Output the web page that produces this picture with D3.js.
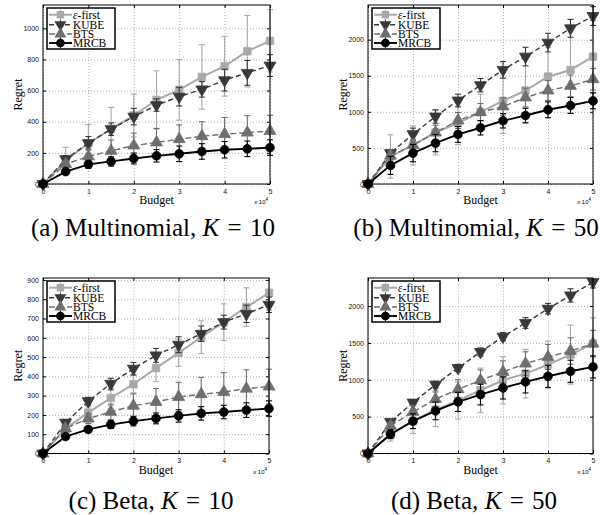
<!DOCTYPE html>
<html>
<head>
<meta charset="utf-8">
<script src="https://cdn.jsdelivr.net/npm/d3@7"></script>
<style>
body { margin: 0; background: #fff; }
svg { display: block; }
</style>
</head>
<body>
<div id="chart"></div>
<script>
// Regret vs budget, four settings (budget in units of 10^4)

var budget = [0, 0.5, 1, 1.5, 2, 2.5, 3, 3.5, 4, 4.5, 5];
var methods = ["ε-first", "KUBE", "BTS", "MRCB"];
var xTicks = [0, 1, 2, 3, 4, 5];

// (a) Multinomial, K = 10
var aEps     = [0, 150, 262, 355, 440, 540, 605, 688, 757, 853, 920];
var aEpsErr  = [0, 85, 120, 137, 138, 187, 195, 207, 192, 230, 200];
var aKube    = [0, 160, 262, 352, 433, 507, 561, 608, 667, 714, 761];
var aKubeErr = [0, 23, 43, 40, 53, 40, 60, 50, 70, 80, 70];
var aBts     = [0, 128, 177, 213, 247, 267, 288, 307, 320, 330, 341];
var aBtsErr  = [0, 20, 50, 70, 80, 90, 92, 93, 108, 109, 100];
var aMrcb    = [0, 80, 126, 145, 164, 181, 194, 209, 220, 226, 234];
var aMrcbErr = [0, 15, 25, 30, 35, 40, 50, 50, 53, 50, 50];

// (b) Multinomial, K = 50
var bEps     = [0, 382, 535, 714, 843, 995, 1152, 1295, 1488, 1580, 1765];
var bEpsErr  = [0, 300, 270, 310, 300, 250, 450, 450, 400, 600, 500];
var bKube    = [0, 428, 691, 935, 1157, 1369, 1581, 1765, 1959, 2157, 2327];
var bKubeErr = [0, 40, 83, 93, 87, 92, 115, 129, 129, 124, 130];
var bBts     = [0, 392, 539, 714, 880, 995, 1074, 1198, 1295, 1359, 1452];
var bBtsErr  = [0, 60, 80, 100, 110, 120, 120, 130, 138, 150, 150];
var bMrcb    = [0, 258, 428, 567, 687, 779, 876, 949, 1028, 1088, 1152];
var bMrcbErr = [0, 125, 120, 120, 110, 100, 100, 100, 110, 110, 110];

// (c) Beta, K = 10
var cEps     = [0, 129, 212, 288, 359, 443, 522, 603, 681, 759, 833];
var cEpsErr  = [0, 20, 30, 40, 45, 70, 70, 85, 95, 100, 90];
var cKube    = [0, 160, 271, 362, 440, 509, 564, 621, 681, 724, 771];
var cKubeErr = [0, 15, 20, 28, 32, 36, 41, 40, 36, 45, 40];
var cBts     = [0, 130, 181, 216, 247, 267, 293, 307, 319, 336, 347];
var cBtsErr  = [0, 15, 25, 40, 62, 70, 76, 88, 100, 98, 90];
var cMrcb    = [0, 88, 125, 150, 168, 182, 195, 208, 215, 225, 233];
var cMrcbErr = [0, 10, 15, 20, 25, 28, 32, 35, 35, 38, 40];

// (d) Beta, K = 50
var dEps     = [0, 257, 442, 596, 718, 858, 993, 1083, 1205, 1341, 1490];
var dEpsErr  = [0, 90, 170, 230, 250, 300, 320, 330, 320, 400, 350];
var dKube    = [0, 429, 691, 934, 1160, 1377, 1585, 1770, 1964, 2144, 2325];
var dKubeErr = [0, 30, 40, 45, 50, 55, 55, 72, 72, 90, 80];
var dBts     = [0, 375, 564, 736, 871, 993, 1106, 1219, 1309, 1390, 1490];
var dBtsErr  = [0, 50, 90, 110, 130, 140, 150, 160, 170, 180, 180];
var dMrcb    = [0, 262, 438, 578, 700, 799, 889, 971, 1047, 1115, 1174];
var dMrcbErr = [0, 60, 100, 120, 130, 140, 150, 150, 150, 150, 150];

var svg = d3.select("#chart")
	.append("svg")
	.attr("width", 605)
	.attr("height", 515);

var styles = [
	{color: "#a9a9a9", dash: null, width: 2, symbol: d3.symbolSquare, size: 56, rotate: 0},
	{color: "#383838", dash: "5,3", width: 1.4, symbol: d3.symbolTriangle, size: 62, rotate: 180},
	{color: "#6e6e6e", dash: "6,3", width: 1.4, symbol: d3.symbolTriangle, size: 62, rotate: 0},
	{color: "#000000", dash: null, width: 1.9, symbol: d3.symbolCircle, size: 60, rotate: 0}
];

var panels = [
	{label: "(a) Multinomial, ", k: "10", yMax: 1150, yTicks: [0, 200, 400, 600, 800, 1000],
	 means: [aEps, aKube, aBts, aMrcb], errs: [aEpsErr, aKubeErr, aBtsErr, aMrcbErr],
	 left: 43, top: 5, width: 227, height: 179, capX: 153, capY: 236},
	{label: "(b) Multinomial, ", k: "50", yMax: 2480, yTicks: [0, 500, 1000, 1500, 2000],
	 means: [bEps, bKube, bBts, bMrcb], errs: [bEpsErr, bKubeErr, bBtsErr, bMrcbErr],
	 left: 368, top: 5, width: 225, height: 179, capX: 476, capY: 236},
	{label: "(c) Beta, ", k: "10", yMax: 910, yTicks: [0, 100, 200, 300, 400, 500, 600, 700, 800, 900],
	 means: [cEps, cKube, cBts, cMrcb], errs: [cEpsErr, cKubeErr, cBtsErr, cMrcbErr],
	 left: 43, top: 278, width: 226, height: 175.5, capX: 151, capY: 509},
	{label: "(d) Beta, ", k: "50", yMax: 2380, yTicks: [0, 500, 1000, 1500, 2000],
	 means: [dEps, dKube, dBts, dMrcb], errs: [dEpsErr, dKubeErr, dBtsErr, dMrcbErr],
	 left: 368, top: 278, width: 225, height: 175.5, capX: 474, capY: 509}
];

var fmt = d3.format("d");

panels.forEach(function(p) {
	var g = svg.append("g")
		.attr("transform", `translate(${p.left}, ${p.top})`);

	var xScale = d3.scaleLinear().domain([0, 5]).range([0, p.width]);
	var yScale = d3.scaleLinear().domain([0, p.yMax]).range([p.height, 0]);

	// dotted grid
	g.append("g")
		.attr("class", "grid")
		.attr("transform", `translate(0, ${p.height})`)
		.call(d3.axisBottom(xScale).tickValues(xTicks).tickSize(-p.height).tickFormat(""));
	g.append("g")
		.attr("class", "grid")
		.call(d3.axisLeft(yScale).tickValues(p.yTicks).tickSize(-p.width).tickFormat(""));
	g.selectAll(".grid .domain").remove();
	g.selectAll(".grid line")
		.attr("stroke", "#9a9a9a")
		.attr("stroke-width", 0.8)
		.attr("stroke-dasharray", "1,2");

	// axes with inward ticks
	g.append("g")
		.attr("transform", `translate(0, ${p.height})`)
		.call(d3.axisBottom(xScale).tickValues(xTicks).tickFormat(fmt).tickSizeInner(-3).tickSizeOuter(0).tickPadding(5));
	g.append("g")
		.call(d3.axisLeft(yScale).tickValues(p.yTicks).tickFormat(fmt).tickSizeInner(-3).tickSizeOuter(0).tickPadding(4));
	g.append("g")
		.call(d3.axisTop(xScale).tickValues(xTicks).tickSizeInner(-3).tickSizeOuter(0).tickFormat(""));
	g.append("g")
		.attr("transform", `translate(${p.width}, 0)`)
		.call(d3.axisRight(yScale).tickValues(p.yTicks).tickSizeInner(-3).tickSizeOuter(0).tickFormat(""));
	g.selectAll(".domain").attr("stroke", "none");
	g.selectAll(".tick text")
		.attr("font-family", "Liberation Sans, Arial, sans-serif")
		.attr("font-size", "7px")
		.attr("fill", "#111");

	// series
	var line = d3.line()
		.x((d, i) => xScale(budget[i]))
		.y(d => yScale(d));

	p.means.forEach(function(vals, s) {
		var st = styles[s];
		var sg = g.append("g");
		var errs = p.errs[s];

		// error bars
		var eb = sg.selectAll(".eb")
			.data(vals.map((v, i) => ({x: budget[i], v: v, e: errs[i]})).filter(d => d.e > 0))
			.enter()
			.append("g");
		eb.append("line")
			.attr("x1", d => xScale(d.x)).attr("x2", d => xScale(d.x))
			.attr("y1", d => yScale(d.v - d.e)).attr("y2", d => yScale(Math.min(d.v + d.e, p.yMax)));
		eb.append("line")
			.attr("x1", d => xScale(d.x) - 3).attr("x2", d => xScale(d.x) + 3)
			.attr("y1", d => yScale(d.v - d.e)).attr("y2", d => yScale(d.v - d.e));
		eb.filter(d => d.v + d.e <= p.yMax).append("line")
			.attr("x1", d => xScale(d.x) - 3).attr("x2", d => xScale(d.x) + 3)
			.attr("y1", d => yScale(d.v + d.e)).attr("y2", d => yScale(d.v + d.e));
		eb.selectAll("line")
			.attr("stroke", st.color)
			.attr("stroke-width", 1.1);

		sg.append("path")
			.datum(vals)
			.attr("d", line)
			.attr("fill", "none")
			.attr("stroke", st.color)
			.attr("stroke-width", st.width)
			.attr("stroke-dasharray", st.dash);

		sg.selectAll(".mk")
			.data(vals)
			.enter()
			.append("path")
			.attr("d", d3.symbol().type(st.symbol).size(st.size))
			.attr("transform", (d, i) => `translate(${xScale(budget[i])}, ${yScale(d)}) rotate(${st.rotate})`)
			.attr("fill", st.color)
			.attr("stroke", st.color)
			.attr("stroke-width", 0.8);
	});

	// frame
	g.append("rect")
		.attr("width", p.width)
		.attr("height", p.height)
		.attr("fill", "none")
		.attr("stroke", "#000")
		.attr("stroke-width", 1);

	// legend
	var lg = g.append("g").attr("transform", "translate(4, 3)");
	lg.append("rect")
		.attr("width", 68)
		.attr("height", 41)
		.attr("fill", "#fff")
		.attr("stroke", "#000")
		.attr("stroke-width", 1.5);
	var rowY = [6.7, 16.7, 26, 35];
	methods.forEach(function(name, s) {
		var st = styles[s];
		var row = lg.append("g").attr("transform", `translate(0, ${rowY[s]})`);
		row.append("line")
			.attr("x1", 13.4).attr("x2", 13.4).attr("y1", -5).attr("y2", 5)
			.attr("stroke", st.color).attr("stroke-width", 1);
		row.append("line")
			.attr("x1", 2).attr("x2", 25)
			.attr("stroke", st.color)
			.attr("stroke-width", st.width)
			.attr("stroke-dasharray", st.dash);
		row.append("path")
			.attr("d", d3.symbol().type(st.symbol).size(st.size))
			.attr("transform", `translate(13.4, 0) rotate(${st.rotate})`)
			.attr("fill", st.color);
		var t = row.append("text")
			.attr("x", 26)
			.attr("y", 4)
			.attr("font-family", "Liberation Serif, Times New Roman, serif")
			.attr("font-size", "11.5px");
		if (s === 0) {
			t.append("tspan").attr("font-style", "italic").text("ε");
			t.append("tspan").text("-first");
		} else {
			t.text(name);
		}
	});

	// axis labels
	g.append("text")
		.attr("transform", `translate(${-25}, ${p.height / 2}) rotate(-90)`)
		.attr("text-anchor", "middle")
		.attr("dy", "0.32em")
		.attr("font-family", "Liberation Serif, Times New Roman, serif")
		.attr("font-size", "12px")
		.text("Regret");
	g.append("text")
		.attr("x", p.width / 2)
		.attr("y", p.height + 20)
		.attr("text-anchor", "middle")
		.attr("font-family", "Liberation Serif, Times New Roman, serif")
		.attr("font-size", "12px")
		.text("Budget");
	var ex = g.append("text")
		.attr("x", p.width - 2)
		.attr("y", p.height + 20)
		.attr("text-anchor", "end")
		.attr("font-family", "Liberation Sans, Arial, sans-serif")
		.attr("font-size", "6px")
		.text("x 10");
	ex.append("tspan").attr("dy", -3).attr("font-size", "4.5px").text("4");

	// caption
	var cap = svg.append("text")
		.attr("x", p.capX)
		.attr("y", p.capY)
		.attr("text-anchor", "middle")
		.attr("font-family", "Liberation Serif, Times New Roman, serif")
		.attr("font-size", "25px");
	cap.append("tspan").text(p.label);
	cap.append("tspan").attr("font-style", "italic").text("K");
	cap.append("tspan").text("\u2004=\u2004" + p.k);
});
</script>
</body>
</html>
